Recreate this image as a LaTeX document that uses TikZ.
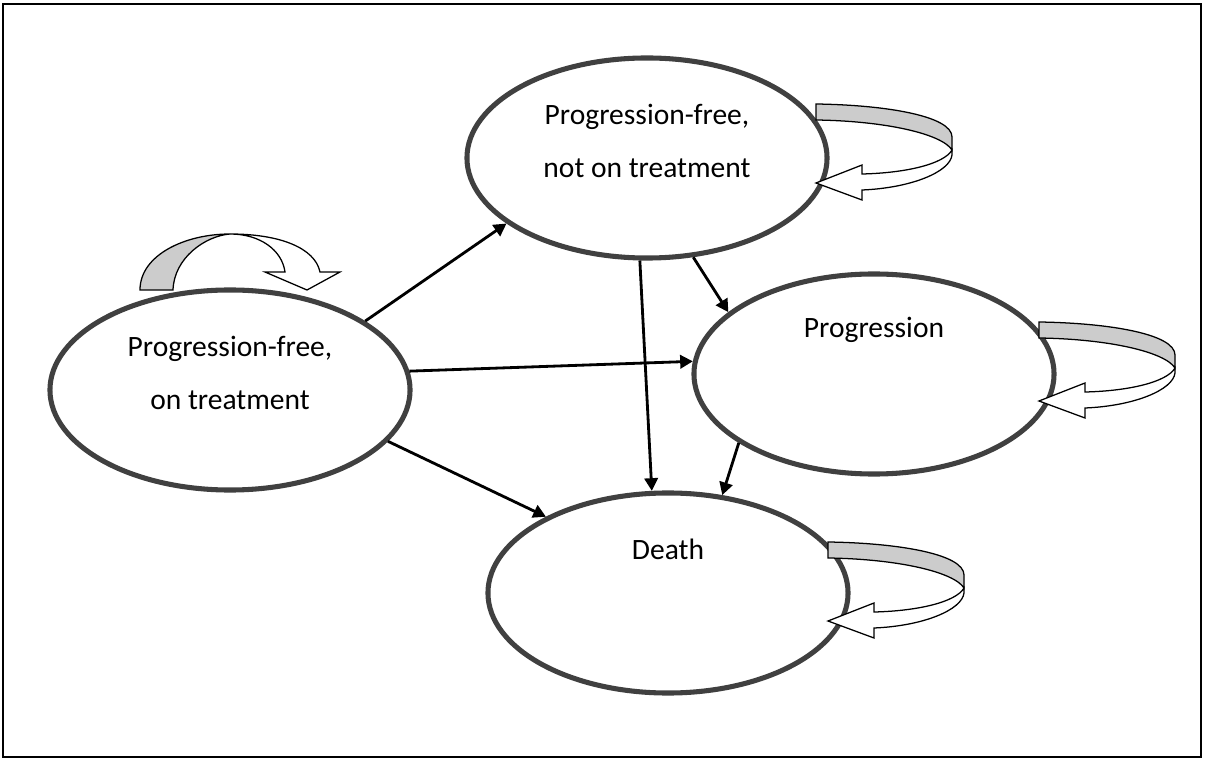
\documentclass[tikz,border=0pt]{standalone}
\usepackage{fontspec}
\setmainfont{Carlito}
\usepackage{xcolor}
\usetikzlibrary{arrows.meta,shapes.geometric}

\definecolor{ringgray}{HTML}{404040}
\definecolor{loopgray}{HTML}{CCCCCC}

\tikzset{
  state/.style={ellipse,draw=ringgray,line width=3.6pt,minimum width=9cm,minimum height=5cm,inner sep=0pt},
  lbl/.style={font=\fontsize{21}{37.5}\selectfont,align=center,inner sep=0pt},
  flow/.style={line width=2pt,-{Triangle[length=9pt,width=9.5pt]}},
  loopline/.style={line width=0.9pt,line join=miter},
  selfloop/.pic={
    \filldraw[loopline,fill=loopgray] (0,0) .. controls (70,1) and (136,12) .. (136,33) -- (136,46) .. controls (126,30) and (70,17) .. (0,16) -- cycle;
    \filldraw[loopline,fill=white] (136,46) .. controls (128,60) and (90,69) .. (46,70) -- (46,61) -- (0,79) -- (46,96) -- (46,86) .. controls (95,84) and (134,68) .. (136,51) -- cycle;
  }
}

\begin{document}
\begin{tikzpicture}[x=0.025cm,y=-0.025cm]
			\useasboundingbox (0,0) rectangle (1205,760);
			% Khung
			\draw[line width=1.2pt] (3,4) rectangle (1201,757);
			% Trạng thái
			\node[state] (pft) at (230,390) {};
			\node[state] (pfn) at (647,158) {};
			\node[state] (prog) at (874,374) {};
			\node[state] (dth) at (668,593) {};
			\node[lbl] (pfttext) at (230,373) {Progression-free,\\on treatment};
			\node[lbl] (pfntext) at (647,141) {Progression-free,\\not on treatment};
			\node[lbl,anchor=base] (progtext) at (874,338) {Progression};
			\node[lbl,anchor=base] (dthtext) at (668,560) {Death};
			% Chuyển trạng thái
			\foreach \a/\b in {pft.27/pfn.205,pft.6/prog.176,pft.342/dth.148,pfn.266/dth.99,pfn.295/prog.157,prog.207/dth.61}
			\draw[flow] (\a) -- (\b);
			% Ở lại trạng thái cũ
			\filldraw[loopline,fill=loopgray] (140,290) .. controls (140,255) and (185,234) .. (230,234) .. controls (205,236) and (174,258) .. (173,290) -- cycle;
			\filldraw[loopline,fill=white] (230,234) .. controls (260,234) and (282,250) .. (285,272) -- (265,272) -- (307,290) -- (340,272) -- (320,272) .. controls (315,248) and (280,234) .. (230,234) -- cycle;
			\foreach \p in {(816,104),(1039,322),(828,542)}
			\pic at \p {selfloop};
\end{tikzpicture}
\end{document}
